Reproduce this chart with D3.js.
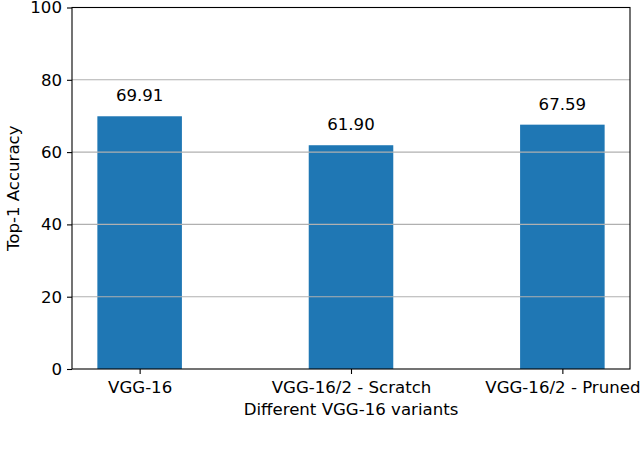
<!DOCTYPE html>
<html><head><meta charset="utf-8">
<script src="https://cdn.jsdelivr.net/npm/d3@7"></script>
<style>body{margin:0;background:#fff}svg{display:block}text{font-family:"DejaVu Sans",sans-serif;fill:#000}</style>
</head><body>
<svg id="c" width="640" height="450"></svg>
<script>
const categories = ["VGG-16", "VGG-16/2 - Scratch", "VGG-16/2 - Pruned"];
const accuracy = [69.91, 61.90, 67.59];
const valueLabels = ["69.91", "61.90", "67.59"];
const yTicks = [0, 20, 40, 60, 80, 100];
const yTitle = "Top-1 Accuracy";
const xTitle = "Different VGG-16 variants";

const FS = 16.6;
const svg = d3.select("#c");
const L = 72, R = 630, T = 7.5, B = 369;
const x = d3.scaleLinear().domain([-0.32, 2.32]).range([L, R]);
const y = d3.scaleLinear().domain([0, 100]).range([B, T]);
const bw = 0.4;

// bars
svg.selectAll("rect.bar").data(accuracy).enter().append("rect")
  .attr("class", "bar")
  .attr("x", (d, i) => x(i - bw / 2))
  .attr("width", (d, i) => x(i + bw / 2) - x(i - bw / 2))
  .attr("y", d => y(d))
  .attr("height", d => y(0) - y(d))
  .attr("fill", "#1f77b4");

// grid (over bars)
svg.selectAll("line.grid").data(yTicks.filter(t => t > 0 && t < 100)).enter().append("line")
  .attr("x1", L).attr("x2", R)
  .attr("y1", d => y(d)).attr("y2", d => y(d))
  .attr("stroke", "#b0b0b0").attr("stroke-width", 1.1);

// value labels
svg.selectAll("text.val").data(accuracy).enter().append("text")
  .attr("x", (d, i) => x(i))
  .attr("y", d => y(d) - 15)
  .attr("text-anchor", "middle")
  .attr("font-size", FS)
  .text((d, i) => valueLabels[i]);

// axes
const yAxis = d3.axisLeft(y).tickValues(yTicks).tickSize(5).tickPadding(5).tickFormat(d3.format("d"));
const gy = svg.append("g").attr("transform", `translate(${L},0)`).call(yAxis);
const xAxis = d3.axisBottom(x).tickValues([0, 1, 2]).tickSize(5).tickPadding(7).tickFormat(i => categories[i]);
const gx = svg.append("g").attr("transform", `translate(0,${B})`).call(xAxis);
[gy, gx].forEach(g => {
  g.select(".domain").remove();
  g.selectAll("line").attr("stroke", "#000").attr("stroke-width", 1.1);
  g.selectAll("text").attr("font-size", FS).attr("font-family", "DejaVu Sans").attr("fill", "#000");
});

// frame
svg.append("rect").attr("x", L).attr("y", T).attr("width", R - L).attr("height", B - T)
  .attr("fill", "none").attr("stroke", "#000").attr("stroke-width", 1.1);

// titles
svg.append("text").attr("x", x(1)).attr("y", 415).attr("text-anchor", "middle")
  .attr("font-size", FS).text(xTitle);
svg.append("text").attr("transform", `translate(19,${(T + B) / 2}) rotate(-90)`)
  .attr("text-anchor", "middle").attr("font-size", FS).text(yTitle);
</script>
</body></html>
